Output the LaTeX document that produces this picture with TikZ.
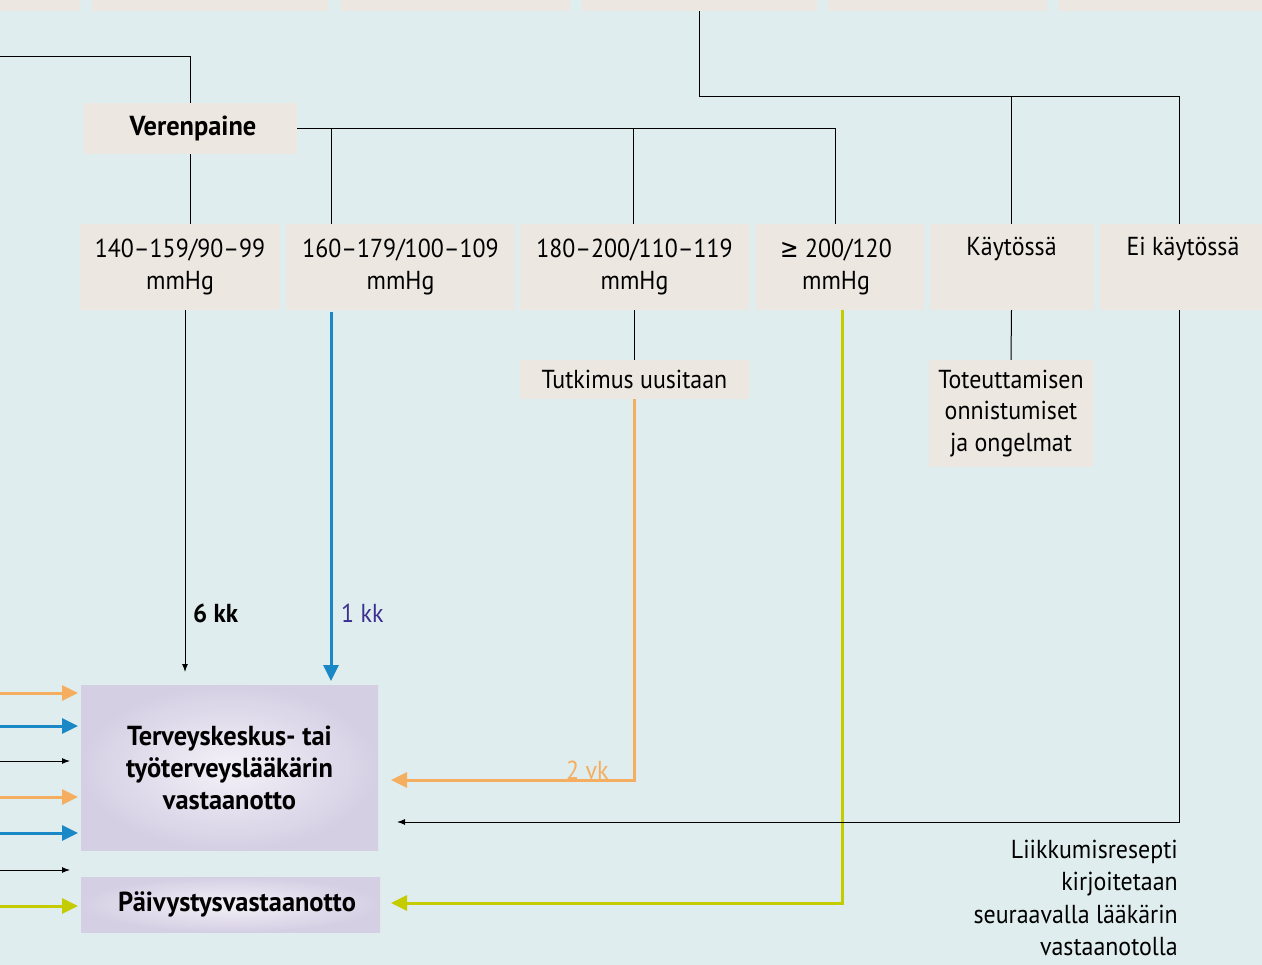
\documentclass[tikz,border=0pt]{standalone}
\usepackage{fontspec}
\setmainfont{PT Sans}[FakeStretch=0.92]
\newfontfamily\bfam{PT Sans}[FakeStretch=0.96]
\newfontfamily\djv{DejaVu Sans}[FakeStretch=0.85]
\usetikzlibrary{arrows.meta}
\definecolor{bg}{HTML}{E0EDEE}
\definecolor{boxc}{HTML}{ECE7E0}
\definecolor{orng}{HTML}{F5AE5F}
\definecolor{blu}{HTML}{1A87C6}
\definecolor{grn}{HTML}{C4CC00}
\definecolor{lavout}{HTML}{D5CFE4}
\definecolor{lavin}{HTML}{F3F1F7}
\definecolor{kkc}{HTML}{3B2F8F}
\begin{document}
\begin{tikzpicture}[x=1pt,y=-1pt,
  txt/.style={font=\fontsize{26}{31.5}\selectfont},
  box/.style={fill=boxc, inner sep=0pt, align=center, txt},
  strip/.style={fill=boxc, inner sep=0pt, minimum height=11pt},
  grad/.style={inner sep=0pt, align=center, shading=radial, inner color=lavin, outer color=lavout, font=\fontsize{27.5}{32}\bfam\bfseries},
  thinline/.style={line width=1pt, black},
  thinarrow/.style={line width=1pt, black, -{Latex[length=8pt,width=6pt]}},
  colarrow/.style={line width=3pt, -{Triangle[length=16pt,width=15pt]}},
]
\fill[bg] (0,0) rectangle (1262,965);
\useasboundingbox (0,0) rectangle (1262,965);

% top strip
\node[strip, minimum width=80pt]  (t1) at (40,5.5) {};
\node[strip, minimum width=236pt] (t2) at (210,5.5) {};
\node[strip, minimum width=229pt] (t3) at (455.5,5.5) {};
\node[strip, minimum width=235pt] (t4) at (699.5,5.5) {};
\node[strip, minimum width=219pt] (t5) at (937.5,5.5) {};
\node[strip, minimum width=204pt] (t6) at (1160,5.5) {};

% Verenpaine
\node[box, minimum width=213pt, minimum height=51pt, font=\fontsize{27.5}{31}\bfam\bfseries] (vp) at (190.5,128.5) {\hspace*{5pt}Verenpaine};

% row boxes
\node[box, minimum width=200pt, minimum height=86pt] (b1) at (180,267) {140–159/90–99\\mmHg};
\node[box, minimum width=229pt, minimum height=86pt] (b2) at (400.5,267) {160–179/100–109\\mmHg};
\node[box, minimum width=229pt, minimum height=86pt] (b3) at (634.5,267) {180–200/110–119\\mmHg};
\node[box, minimum width=168pt, minimum height=86pt] (b4) at (840,267) {\hspace*{-8pt}{\djv ≥} 200/120\\\hspace*{-8pt}mmHg};
\node[box, minimum width=164pt, minimum height=86pt] (b5) at (1011.5,267) {Käytössä\\\strut};
\node[box, minimum width=162pt, minimum height=86pt] (b6) at (1181,267) {\hspace*{4pt}Ei käytössä\\\strut};

\node[box, minimum width=229pt, minimum height=39pt] (tu) at (634.5,379.5) {Tutkimus uusitaan};
\node[box, minimum width=164pt, minimum height=107pt] (tot) at (1011,413.5) {Toteuttamisen\\onnistumiset\\ja ongelmat};

% target boxes
\node[grad, minimum width=297pt, minimum height=165pt] (tk) at (229.5,767.5) {Terveyskeskus- tai\\työterveyslääkärin\\vastaanotto};
\node[grad, minimum width=299pt, minimum height=55pt] (pv) at (230.5,904.5) {\hspace*{13pt}Päivystysvastaanotto};

% coordinates
\coordinate (lft) at (0,57);
\coordinate (c2) at (331,224);
\coordinate (c3) at (633,224);
\coordinate (c4) at (835,224);
\coordinate (h) at (1179,97);
\coordinate (c6) at (1179,224);

% upper tree
\draw[thinline] (lft) -| (vp.north);
\draw[thinline] (vp.south) -- (vp.south |- b1.north);
\draw[thinline] (vp.east) -| (c4);
\draw[thinline] (c2 |- vp.east) -- (c2);
\draw[thinline] (c3 |- vp.east) -- (c3);
\draw[thinline] (t4.south) |- (h) -- (c6);
\draw[thinline] (b5.north |- h) -- (b5.north);

% lower connectors
\coordinate (s1) at (185,310);
\coordinate (e1) at (185,672);
\draw[thinarrow] (s1) -- (e1);
\node[anchor=west, font=\fontsize{26}{30}\bfam\bfseries, inner sep=0pt] (l6) at (193,613) {6 kk};

\coordinate (s2) at (331,312);
\coordinate (e2) at (331,681);
\draw[colarrow, blu] (s2) -- (e2);
\node[txt, text=kkc, anchor=west, inner sep=0pt] (l1) at (341,613) {1 kk};

\draw[thinline] (b3.south -| tu.north) -- (tu.north);
\coordinate (o1) at (634.5,780);
\coordinate (o2) at (391,780);
\draw[colarrow, orng] (tu.south) -- (o1) -- (o2);
\node[txt, text=orng, anchor=west, inner sep=0pt] (l2) at (566,770) {2 vk};

\coordinate (g0) at (842,310);
\coordinate (g1) at (842,903);
\coordinate (g2) at (391,903);
\draw[colarrow, grn] (g0) -- (g1) -- (g2);

\draw[thinline] (b5.south) -- (tot.north);

\coordinate (k0) at (1179,310);
\coordinate (k1) at (1179,822);
\coordinate (k2) at (397,822);
\draw[thinarrow] (k0) -- (k1) -- (k2);

\node[align=right, anchor=north east, inner sep=0pt, font=\fontsize{26}{32.3}\selectfont] (lr) at (1178,840) {Liikkumisresepti\\kirjoitetaan\\seuraavalla lääkärin\\vastaanotolla};

% left incoming arrows
\coordinate (a1) at (0,693);   \coordinate (a1e) at (78,693);
\coordinate (a2) at (0,726);   \coordinate (a2e) at (78,726);
\coordinate (a3) at (0,761);   \coordinate (a3e) at (70,761);
\coordinate (a4) at (0,797);   \coordinate (a4e) at (78,797);
\coordinate (a5) at (0,833);   \coordinate (a5e) at (78,833);
\coordinate (a6) at (0,870);   \coordinate (a6e) at (70,870);
\coordinate (a7) at (0,906);   \coordinate (a7e) at (78,906);
\draw[colarrow, orng] (a1) -- (a1e);
\draw[colarrow, blu] (a2) -- (a2e);
\draw[thinarrow] (a3) -- (a3e);
\draw[colarrow, orng] (a4) -- (a4e);
\draw[colarrow, blu] (a5) -- (a5e);
\draw[thinarrow] (a6) -- (a6e);
\draw[colarrow, grn] (a7) -- (a7e);
\end{tikzpicture}
\end{document}
